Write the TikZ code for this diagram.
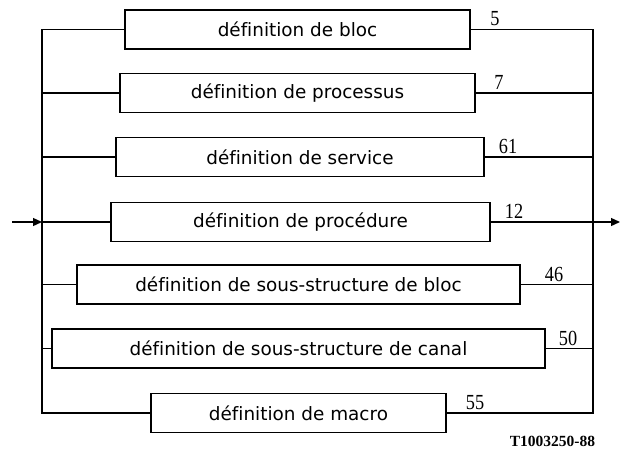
\documentclass[tikz,border=0pt]{standalone}
\usepackage{fontspec}
\setmainfont[Ligatures=NoCommon]{DejaVu Sans}
\newfontfamily\numfont[FakeStretch=0.85]{Liberation Serif}
\newfontfamily\reffont{Liberation Serif}
\usetikzlibrary{arrows.meta,calc}
\begin{document}
\begin{tikzpicture}[x=1pt,y=-1pt,
  box/.style={draw, line width=1.4pt, minimum height=39pt, inner sep=0pt,
    font=\fontsize{18.4}{20}\selectfont},
  wire/.style={line width=1.3pt},
  lab/.style={font=\numfont\fontsize{21.5}{22}\selectfont, anchor=base, inner sep=0pt},
  tip/.style={-{Triangle[length=9pt,width=8pt]}},
  ]
\useasboundingbox (0,0) rectangle (620,452);

\node[box, minimum width=345pt] (b1) at (297.5,29.5) {définition de bloc};
\node[box, minimum width=355pt] (b2) at (297.5,93) {définition de processus};
\node[box, minimum width=368pt] (b3) at (300,157) {définition de service};
\node[box, minimum width=379pt] (b4) at (300.5,222) {définition de procédure};
\node[box, minimum width=443pt] (b5) at (298.5,284.5) {définition de sous-structure de bloc};
\node[box, minimum width=493pt] (b6) at (298.5,348.5) {définition de sous-structure de canal};
\node[box, minimum width=295pt] (b7) at (298.5,413) {définition de macro};

\coordinate (L) at (42,0);
\coordinate (R) at (593,0);
\coordinate (in) at (12,222);
\coordinate (out) at (620,222);

% left collector
\draw[wire] (b1.west) -- (b1.west -| L) -- (b7.west -| L) -- (b7.west);
\foreach \b in {b2,b3,b5,b6} \draw[wire] (\b.west -| L) -- (\b.west);
\draw[wire, tip] (in) -- (b4.west -| L);
\draw[wire] (b4.west -| L) -- (b4.west);

% right collector
\draw[wire] (b1.east) -- (b1.east -| R) -- (b7.east -| R) -- (b7.east);
\foreach \b in {b2,b3,b5,b6} \draw[wire] (\b.east) -- (\b.east -| R);
\draw[wire, tip] (b4.east) -- (out);

% labels
\node[lab] (n5) at (495,26) {5};
\node[lab] (n7) at (499,89) {7};
\node[lab] (n61) at (508,153) {61};
\node[lab] (n12) at (514,218) {12};
\node[lab] (n46) at (554,281) {46};
\node[lab] (n50) at (568,345) {50};
\node[lab] (n55) at (475,409) {55};

\node[anchor=base, inner sep=0pt, font=\reffont\bfseries\fontsize{15.5}{16}\selectfont] (ref) at (552.5,446) {T1003250-88};
\end{tikzpicture}
\end{document}
